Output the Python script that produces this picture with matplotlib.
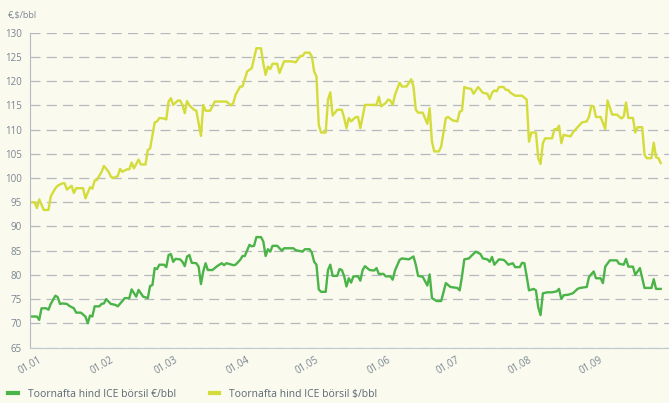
import matplotlib.pyplot as plt
import matplotlib.dates as mdates
import pandas as pd

# Brent crude, ICE, 2011 (days counted from 1 Jan)
usd_days = [0, 2, 3, 4, 6, 8, 9, 11, 12, 14, 15, 16, 18, 19, 20, 23, 24, 26, 27, 28,
            29, 31, 32, 34, 35, 36, 38, 39, 40, 42, 43, 44, 45, 47, 48, 50, 51, 52, 54, 55,
            56, 58, 59, 60, 61, 62, 64, 65, 66, 67, 68, 69, 71, 72, 74, 75, 76, 78, 80, 85,
            87, 88, 89, 91, 92, 94, 96, 97, 98, 100, 101, 102, 103, 104, 105, 107, 108, 110, 113, 115,
            117, 118, 119, 121, 122, 123, 124, 125, 126, 128, 129, 130, 131, 133, 135, 136, 137, 138, 139, 141,
            142, 143, 144, 145, 150, 151, 152, 154, 155, 156, 157, 158, 160, 161, 163, 165, 166, 167, 168, 170,
            172, 173, 174, 175, 177, 178, 180, 181, 183, 185, 186, 187, 188, 189, 191, 192, 194, 196, 198, 199,
            200, 201, 202, 203, 205, 206, 207, 208, 210, 213, 215, 216, 217, 219, 220, 221, 222, 223, 226, 227,
            228, 229, 230, 231, 234, 235, 237, 239, 241, 242, 243, 244, 245, 247, 249, 250, 252, 254, 256, 257,
            258, 259, 261, 262, 263, 265, 266, 267, 269, 270, 271, 272, 273]
usd_price = [95.0, 95.0, 93.8, 95.6, 93.4, 93.4, 96.2, 97.9, 98.4, 98.9, 98.9, 97.6, 98.4, 96.9, 97.9, 97.9, 95.8, 98.1, 97.8, 99.5,
             99.6, 101.3, 102.5, 101.3, 100.3, 100.0, 100.4, 101.9, 101.3, 101.8, 101.8, 103.2, 102.0, 103.8, 102.8, 102.8, 105.8, 106.1, 111.5, 111.7,
             112.4, 112.3, 112.1, 115.8, 116.5, 115.1, 116.0, 116.0, 115.1, 113.4, 115.9, 115.0, 114.1, 113.9, 108.7, 115.1, 113.9, 113.9, 115.8, 115.8,
             115.0, 115.5, 117.2, 118.9, 118.9, 122.0, 122.7, 124.8, 126.8, 126.8, 123.7, 121.3, 123.0, 122.5, 123.6, 123.6, 121.7, 124.1, 124.1, 123.9,
             125.2, 125.2, 125.9, 125.9, 125.1, 122.0, 121.0, 111.0, 109.4, 109.4, 116.2, 117.7, 112.9, 114.1, 114.1, 112.4, 110.3, 112.4, 111.7, 112.6,
             112.6, 110.3, 112.7, 115.1, 115.1, 116.8, 114.8, 115.5, 116.2, 116.0, 115.1, 117.2, 119.7, 118.9, 118.9, 120.4, 118.9, 114.1, 113.5, 113.5,
             111.2, 114.4, 107.5, 105.5, 105.5, 106.5, 112.4, 112.6, 111.9, 111.7, 113.7, 113.9, 118.8, 118.6, 118.4, 117.4, 118.8, 117.6, 117.4, 116.3,
             117.6, 118.1, 117.9, 118.8, 118.8, 118.2, 118.2, 117.6, 117.0, 117.0, 116.2, 107.5, 109.4, 109.4, 104.1, 102.9, 107.2, 108.2, 108.2, 110.1,
             110.0, 110.8, 107.2, 108.9, 108.6, 109.4, 110.5, 111.5, 111.7, 112.7, 114.9, 114.8, 112.6, 112.6, 110.1, 116.0, 113.1, 113.1, 112.3, 112.7,
             115.6, 112.4, 112.4, 109.4, 110.5, 110.5, 104.8, 104.1, 104.1, 107.3, 104.3, 104.1, 103.1]

eur_days = [0, 3, 4, 5, 7, 8, 9, 11, 12, 13, 14, 16, 17, 19, 20, 22, 24, 25, 26, 27,
            28, 30, 31, 32, 33, 35, 37, 38, 40, 41, 43, 44, 46, 47, 49, 51, 52, 53, 54, 55,
            56, 58, 59, 60, 61, 62, 63, 65, 66, 67, 68, 69, 70, 72, 73, 74, 75, 76, 77, 79,
            81, 83, 84, 85, 86, 88, 89, 91, 92, 93, 95, 96, 97, 98, 100, 101, 102, 103, 104, 105,
            107, 109, 110, 114, 115, 118, 119, 121, 122, 123, 124, 125, 126, 128, 129, 130, 131, 133, 134, 135,
            136, 137, 138, 139, 140, 142, 143, 144, 145, 147, 149, 150, 151, 153, 154, 156, 157, 158, 160, 161,
            164, 166, 167, 168, 170, 172, 173, 174, 176, 178, 180, 182, 185, 186, 187, 188, 190, 191, 193, 195,
            196, 198, 199, 200, 201, 203, 205, 206, 207, 209, 210, 212, 213, 214, 215, 216, 218, 219, 220, 221,
            222, 224, 226, 228, 229, 230, 231, 233, 235, 237, 238, 241, 242, 244, 245, 247, 248, 249, 251, 254,
            255, 257, 258, 259, 261, 262, 264, 266, 269, 270, 271, 273]
eur_price = [71.4, 71.4, 70.7, 73.1, 73.1, 72.8, 74.0, 75.7, 75.4, 74.0, 74.1, 74.0, 73.6, 73.1, 72.2, 72.2, 71.4, 70.0, 71.6, 71.4,
             73.5, 73.5, 74.0, 74.1, 75.0, 74.0, 73.8, 73.5, 74.6, 75.2, 75.2, 77.0, 75.5, 76.9, 75.5, 75.2, 77.7, 77.9, 81.4, 81.2,
             82.1, 82.1, 81.6, 84.1, 84.3, 82.7, 83.3, 83.2, 82.7, 81.8, 83.8, 84.1, 82.5, 82.4, 81.7, 78.1, 80.7, 82.4, 81.0, 81.0,
             81.8, 82.4, 82.0, 82.4, 82.3, 82.0, 82.1, 83.1, 83.9, 83.9, 86.2, 85.9, 86.0, 87.8, 87.8, 86.9, 83.9, 85.3, 84.8, 86.0,
             86.0, 85.0, 85.5, 85.5, 85.1, 84.8, 85.3, 85.3, 84.6, 82.7, 82.1, 77.0, 76.5, 76.5, 81.0, 82.1, 79.8, 79.8, 81.2, 81.0,
             79.7, 77.6, 79.3, 78.4, 79.7, 79.7, 78.8, 81.0, 81.8, 81.0, 80.9, 81.4, 80.2, 80.2, 79.7, 79.7, 79.0, 80.9, 83.1, 83.4,
             83.2, 83.8, 82.1, 79.8, 79.6, 77.8, 80.1, 75.2, 74.6, 74.6, 78.3, 77.5, 77.3, 76.8, 79.7, 83.2, 83.4, 83.9, 84.8, 84.3,
             83.4, 83.2, 82.7, 83.7, 82.1, 83.2, 83.1, 82.7, 82.1, 82.4, 81.6, 81.6, 82.5, 82.4, 79.7, 76.8, 77.1, 76.8, 73.3, 71.7,
             76.2, 76.4, 76.4, 76.6, 77.1, 75.0, 75.8, 75.9, 76.2, 77.1, 77.3, 77.5, 79.6, 80.7, 79.3, 79.3, 78.3, 81.7, 83.0, 83.0,
             82.3, 82.1, 83.3, 81.7, 81.7, 80.0, 81.4, 77.3, 77.3, 79.1, 77.1, 77.1]

month_labels = ["01.01", "01.02", "01.03", "01.04", "01.05", "01.06", "01.07", "01.08", "01.09"]
y_ticks = list(range(65, 131, 5))

start = pd.Timestamp("2011-01-01")
usd_dates = start + pd.to_timedelta(usd_days, unit="D")
eur_dates = start + pd.to_timedelta(eur_days, unit="D")
month_starts = pd.date_range("2011-01-01", periods=len(month_labels), freq="MS")

plt.rcParams["font.family"] = ["Open Sans", "DejaVu Sans"]
text_col = "#7a8591"
legend_col = "#5c6874"
green = "#4bb449"
yellow = "#d3dc3a"
bg = "#fafaee"

fig = plt.figure(figsize=(6.69, 4.03), dpi=100, facecolor=bg)
ax = fig.add_axes([0.0448, 0.1377, 0.9552, 0.781])
ax.set_facecolor(bg)

ax.plot(eur_dates, eur_price, color=green, lw=1.7, solid_joinstyle="round",
        label="Toornafta hind ICE börsil €/bbl")
ax.plot(usd_dates, usd_price, color=yellow, lw=1.7, solid_joinstyle="round",
        label="Toornafta hind ICE börsil $/bbl")

ax.set_ylim(65, 130)
ax.set_xlim(start, start + pd.Timedelta(days=276.6))
ax.set_yticks(y_ticks)
ax.set_xticks(month_starts)
ax.set_xticklabels(month_labels, rotation=30, ha="center")
ax.tick_params(axis="both", length=0, labelsize=7, labelcolor=text_col)
ax.tick_params(axis="y", pad=6)
ax.tick_params(axis="x", pad=5)

ax.grid(axis="y", color="#b4b9c0", lw=0.9, linestyle=(0, (8, 5)))
ax.set_axisbelow(True)
for s in ["top", "right"]:
    ax.spines[s].set_visible(False)
ax.spines["left"].set_color("#b4bac2")
ax.spines["bottom"].set_color("#c3c8ce")

fig.text(0.012, 0.962, "€,$/bbl", fontsize=6.5, color=text_col, va="center")

fig.legend(loc="lower left", bbox_to_anchor=(0.0, -0.012), ncol=2, frameon=False,
           fontsize=7.5, labelcolor=legend_col, handlelength=0.9, handletextpad=1.0,
           columnspacing=3.2, borderaxespad=0.4)
for h in fig.legends[0].legend_handles:
    h.set_linewidth(3)

fig.savefig("out.png", dpi=100, facecolor=bg)
